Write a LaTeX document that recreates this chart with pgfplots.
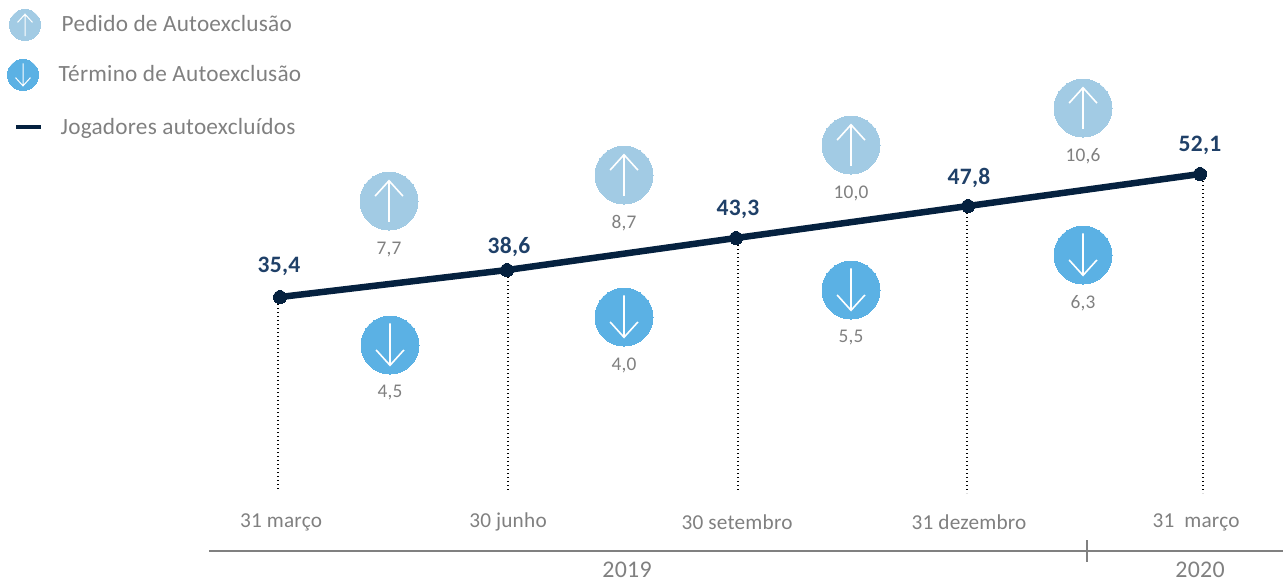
\documentclass[border=0pt]{standalone}
\usepackage{fontspec}
\setmainfont[LetterSpace=1]{Carlito}
\usepackage{pgfplots}
\pgfplotsset{compat=1.18}
\usepackage{pgfplotstable}
\definecolor{navy}{HTML}{05213F}
\definecolor{valnavy}{HTML}{1F4068}
\definecolor{pale}{HTML}{A2CBE4}
\definecolor{mid}{HTML}{5BB1E4}
\definecolor{txt}{HTML}{808080}
\definecolor{rule}{HTML}{808080}

% arrows inside the circles, scaled by mark size
\pgfdeclareplotmark{upa}{%
  \pgfpathmoveto{\pgfqpoint{0pt}{-0.72\pgfplotmarksize}}%
  \pgfpathlineto{\pgfqpoint{0pt}{0.70\pgfplotmarksize}}%
  \pgfpathmoveto{\pgfqpoint{-0.48\pgfplotmarksize}{0.17\pgfplotmarksize}}%
  \pgfpathlineto{\pgfqpoint{0pt}{0.70\pgfplotmarksize}}%
  \pgfpathlineto{\pgfqpoint{0.48\pgfplotmarksize}{0.17\pgfplotmarksize}}%
  \pgfusepathqstroke}
\pgfdeclareplotmark{downa}{%
  \pgfpathmoveto{\pgfqpoint{0pt}{0.75\pgfplotmarksize}}%
  \pgfpathlineto{\pgfqpoint{0pt}{-0.70\pgfplotmarksize}}%
  \pgfpathmoveto{\pgfqpoint{-0.48\pgfplotmarksize}{-0.17\pgfplotmarksize}}%
  \pgfpathlineto{\pgfqpoint{0pt}{-0.70\pgfplotmarksize}}%
  \pgfpathlineto{\pgfqpoint{0.48\pgfplotmarksize}{-0.17\pgfplotmarksize}}%
  \pgfusepathqstroke}

% positions are in reference pixels, y counted from the top
\pgfplotstableread{
x y label
280 297 35,4
507 270 38,6
736 238 43,3
968 206 47,8
1200 174 52,1
}\players
\pgfplotstableread{
x y label
279 266 35,4
509 247 38,6
738 209 43,3
969 178 47,8
1200 145 52,1
}\playerlabels
\pgfplotstableread{
x y
389 201
624 175
851 145
1083 108
}\requests
\pgfplotstableread{
x y
390 345
624 317
851 290
1083 255
}\endings
\pgfplotstableread{
x y label
389 250 7,7
624 223 8,7
851 193 10,0
1083 156 10,6
390 393 4,5
624 365 4,0
851 338 5,5
1083 303 6,3
}\flows
\pgfplotstableread{
x y label
281 522 {31 março}
508 522 {30 junho}
737 522 {30 setembro}
969 522 {31 dezembro}
1196 522 {31\ \ março}
}\dates
\pgfplotstableread{
x y label
627 570 2019
1200 570 2020
}\years

\pgfplotsset{txtonly/.style={only marks,mark=none,point meta=explicit symbolic,
  nodes near coords,nodes near coords align={center},
  every node near coord/.append style={inner sep=0pt,anchor=center}}}

\begin{document}
\begin{tikzpicture}
\useasboundingbox (0,0) rectangle (12.83,5.8);
\begin{axis}[at={(0,0)},anchor=south west,scale only axis,width=12.83cm,height=5.8cm,
  xmin=0,xmax=1283,ymin=0,ymax=580,y dir=reverse,hide axis,clip=false]
% dotted drop lines
\addplot[black,line width=0.11mm,dash pattern=on 0.11mm off 0.29mm] coordinates {(278,300) (278,490)};
\addplot[black,line width=0.11mm,dash pattern=on 0.11mm off 0.29mm] coordinates {(508,273) (508,490)};
\addplot[black,line width=0.11mm,dash pattern=on 0.11mm off 0.29mm] coordinates {(738,241) (738,492)};
\addplot[black,line width=0.11mm,dash pattern=on 0.11mm off 0.29mm] coordinates {(967,209) (967,493)};
\addplot[black,line width=0.11mm,dash pattern=on 0.11mm off 0.29mm] coordinates {(1203,177) (1203,493)};
% time rule
\addplot[rule,line width=0.13mm] coordinates {(209,551) (1283,551)};
\addplot[rule,line width=0.13mm] coordinates {(1087,540) (1087,562)};
% main line
\addplot[navy,line width=0.65mm,mark=*,mark size=0.065cm,mark options={fill=navy,draw=navy,line width=0pt}] table[x=x,y=y] {\players};
% circles
\addplot[only marks,mark=*,mark size=0.29cm,mark options={fill=pale,draw=pale,line width=0pt}] table[x=x,y=y] {\requests};
\addplot[only marks,mark=upa,mark size=0.29cm,mark options={draw=white,line width=0.16mm}] table[x=x,y=y] {\requests};
\addplot[only marks,mark=*,mark size=0.29cm,mark options={fill=mid,draw=mid,line width=0pt}] table[x=x,y=y] {\endings};
\addplot[only marks,mark=downa,mark size=0.29cm,mark options={draw=white,line width=0.16mm}] table[x=x,y=y] {\endings};
% legend symbols
\addplot[only marks,mark=*,mark size=0.155cm,mark options={fill=pale,draw=pale,line width=0pt}] coordinates {(25,25)};
\addplot[only marks,mark=upa,mark size=0.155cm,mark options={draw=white,line width=0.1mm}] coordinates {(25,25)};
\addplot[only marks,mark=*,mark size=0.155cm,mark options={fill=mid,draw=mid,line width=0pt}] coordinates {(23,75)};
\addplot[only marks,mark=downa,mark size=0.155cm,mark options={draw=white,line width=0.1mm}] coordinates {(23,75)};
\addplot[navy,line width=0.4mm] coordinates {(16,127) (41,127)};
% text
\addplot[txtonly,every node near coord/.append style={font=\fontsize{6.7pt}{8pt}\selectfont\bfseries,text=valnavy}] table[x=x,y=y,meta=label] {\playerlabels};
\addplot[txtonly,every node near coord/.append style={font=\fontsize{5.5pt}{6pt}\selectfont,text=txt}] table[x=x,y=y,meta=label] {\flows};
\addplot[txtonly,every node near coord/.append style={font=\fontsize{6.05pt}{7pt}\selectfont,text=txt}] table[x=x,y=y,meta=label] {\dates};
\addplot[txtonly,every node near coord/.append style={font=\fontsize{6.8pt}{8pt}\selectfont,text=txt}] table[x=x,y=y,meta=label] {\years};
\node[anchor=west,inner sep=0pt,text=txt,font=\fontsize{6.62pt}{8pt}\selectfont] at (axis cs:61,23) {Pedido de Autoexclusão};
\node[anchor=west,inner sep=0pt,text=txt,font=\fontsize{6.62pt}{8pt}\selectfont] at (axis cs:58,73) {Término de Autoexclusão};
\node[anchor=west,inner sep=0pt,text=txt,font=\fontsize{6.62pt}{8pt}\selectfont] at (axis cs:60,128) {Jogadores autoexcluídos};
\end{axis}
\end{tikzpicture}
\end{document}
